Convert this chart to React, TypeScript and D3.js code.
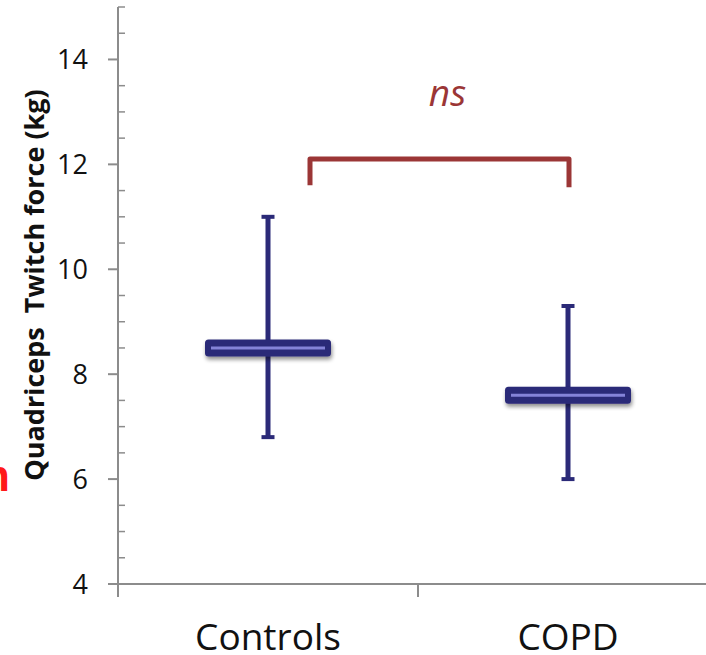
import React from "react";
import * as d3 from "d3";

// Group summaries: mean with lower / upper whisker values (kg)
const groups = ["Controls", "COPD"];
const means = [8.5, 7.6];
const lows = [6.8, 6.0];
const highs = [11.0, 9.3];

const majorTicks = [4, 6, 8, 10, 12, 14];
const yDomain: [number, number] = [4, 15];

const yLabel = "Quadriceps  Twitch force (kg)";
const sigLabel = "ns";
const bracketLevel = 12.1;
const bracketDrop = 0.5;

const W = 706;
const H = 655;

const navy = "#2b2a78";
const navyLight = "#8483d8";
const axisGray = "#8c8c8c";
const sigRed = "#9b3636";

export default function App() {
  const y = d3.scaleLinear().domain(yDomain).range([584, 7]);
  const x = d3.scaleBand<string>().domain(groups).range([118, 718]).padding(0);
  const bw = x.bandwidth();
  const minorTicks = d3.range(yDomain[0], yDomain[1] + 0.001, 0.5).filter((v) => !majorTicks.includes(v));

  const x0 = y.range()[0];
  const axisX = x.range()[0];

  const leftCx = x(groups[0])! + bw / 2;
  const rightCx = x(groups[1])! + bw / 2;
  const bL = leftCx + bw * 0.14;
  const bR = rightCx + 1;

  return (
    <svg
      width={W}
      height={H}
      style={{ position: "absolute", left: 0, top: 0, background: "#fff" }}
      fontFamily="'Open Sans', 'Noto Sans', sans-serif"
    >
      <defs>
        <filter id="shadow" x="-10%" y="-50%" width="120%" height="220%">
          <feGaussianBlur in="SourceAlpha" stdDeviation="2" />
          <feOffset dx="1" dy="3" result="b" />
          <feComponentTransfer>
            <feFuncA type="linear" slope="0.45" />
          </feComponentTransfer>
          <feMerge>
            <feMergeNode />
            <feMergeNode in="SourceGraphic" />
          </feMerge>
        </filter>
      </defs>

      {/* red glyph at the left edge */}
      <text x={10} y={491} fontSize={44} fontWeight="bold" fill="#ff1a1a" textAnchor="end"
        fontFamily="'Liberation Sans', sans-serif">n</text>

      {/* y axis */}
      <line x1={axisX} x2={axisX} y1={y(yDomain[1])} y2={x0 + 13} stroke={axisGray} strokeWidth={2} />
      {majorTicks.map((v) => (
        <g key={v}>
          <line x1={axisX - 10} x2={axisX} y1={y(v)} y2={y(v)} stroke={axisGray} strokeWidth={2} />
          <text x={axisX - 30} y={y(v)} dy="0.36em" textAnchor="end" fontSize={27} fill="#111">
            {v}
          </text>
        </g>
      ))}
      {minorTicks.map((v) => (
        <line key={v} x1={axisX} x2={axisX + 7} y1={y(v)} y2={y(v)} stroke={axisGray} strokeWidth={1.5} />
      ))}

      {/* x axis */}
      <line x1={axisX - 10} x2={W} y1={x0} y2={x0} stroke={axisGray} strokeWidth={2} />
      {groups.map((g) => (
        <line key={g} x1={x(g)!} x2={x(g)!} y1={x0} y2={x0 + 13} stroke={axisGray} strokeWidth={2} />
      ))}
      {groups.map((g) => (
        <text key={g} x={x(g)! + bw / 2} y={650} textAnchor="middle" fontSize={37} fill="#111">
          {g}
        </text>
      ))}

      {/* y label */}
      <text
        transform={`translate(44, 285) rotate(-90)`}
        textAnchor="middle"
        fontSize={27}
        fontWeight="bold"
        fill="#111"
        style={{ whiteSpace: "pre" }}
      >
        {yLabel}
      </text>

      {/* whiskers and mean bars */}
      {groups.map((g, i) => {
        const cx = x(g)! + bw / 2;
        const half = bw * 0.21;
        return (
          <g key={g}>
            <line x1={cx} x2={cx} y1={y(highs[i])} y2={y(lows[i])} stroke={navy} strokeWidth={5} />
            <line x1={cx - 6.5} x2={cx + 6.5} y1={y(highs[i])} y2={y(highs[i])} stroke={navy} strokeWidth={4} />
            <line x1={cx - 6.5} x2={cx + 6.5} y1={y(lows[i])} y2={y(lows[i])} stroke={navy} strokeWidth={4} />
            <g filter="url(#shadow)">
              <rect x={cx - half} y={y(means[i]) - 8.5} width={half * 2} height={17} rx={3.5} fill={navy} />
            </g>
            <line x1={cx - half + 6} x2={cx + half - 6} y1={y(means[i])} y2={y(means[i])} stroke={navyLight} strokeWidth={3} />
          </g>
        );
      })}

      {/* significance bracket */}
      <path
        d={`M${bL},${y(bracketLevel - bracketDrop)} V${y(bracketLevel)} H${bR} V${y(bracketLevel - bracketDrop) + 2}`}
        fill="none"
        stroke={sigRed}
        strokeWidth={5}
        strokeLinejoin="round"
      />
      <text x={(bL + bR) / 2 + 8} y={106} textAnchor="middle" fontSize={37} fontStyle="italic" fill={sigRed}>
        {sigLabel}
      </text>
    </svg>
  );
}
